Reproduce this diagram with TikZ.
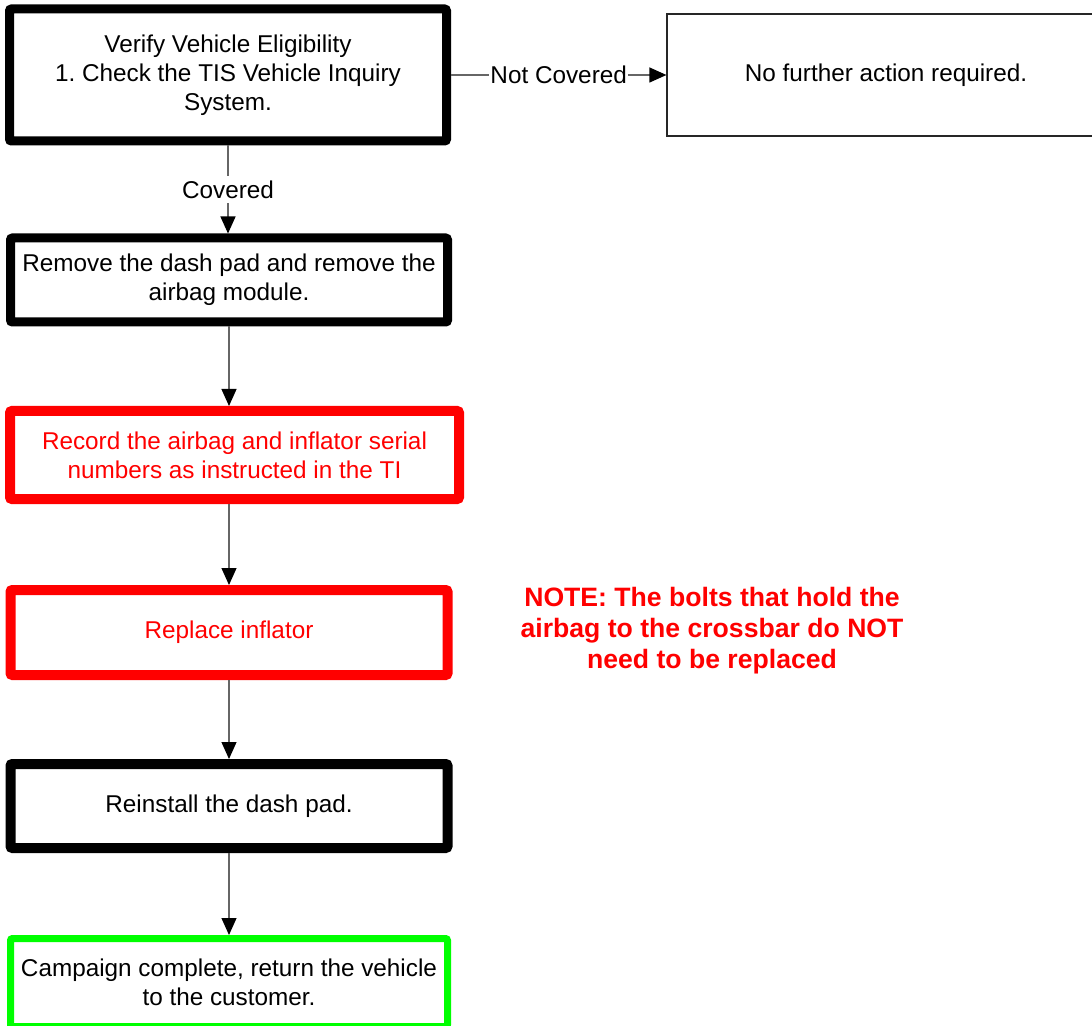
\documentclass[tikz,border=0pt]{standalone}
\usepackage{fontspec}
\setmainfont{Liberation Sans}
\usetikzlibrary{arrows.meta}
\definecolor{alertred}{RGB}{255,0,0}
\definecolor{donegreen}{RGB}{0,255,0}
\frenchspacing
\tikzset{
  stepbox/.style={draw, line width=4.5pt, rounded corners=1pt, align=center, inner sep=2pt, minimum width=218.5pt, minimum height=42pt},
  redbox/.style={stepbox, draw=alertred, text=alertred, line width=5pt},
  donebox/.style={stepbox, draw=donegreen, line width=3.5pt},
  endbox/.style={draw=black!85, line width=0.6pt, align=center, minimum width=219pt, minimum height=61pt},
  flow/.style={draw=black!60, line width=0.6pt, -{Triangle[length=8.5pt,width=7.5pt,color=black]}},
  flowlabel/.style={fill=white, text=black, inner xsep=0.5pt, inner ysep=2.5pt}
}
\begin{document}
\begin{tikzpicture}[x=0.5pt, y=-0.5pt, font=\fontsize{12.15}{14.5}\selectfont]
\useasboundingbox (0,0) rectangle (1092,1026);

\node[stepbox, minimum height=66pt] (verify) at (228,75) {Verify Vehicle Eligibility\\1. Check the TIS Vehicle Inquiry\\System.};
\node[endbox] (nofurther) at (886,75) {No further action required.};

\node[stepbox] (remove) at (229,280) {Remove the dash pad and remove the\\airbag module.};
\node[redbox, minimum width=224.5pt, minimum height=44pt] (record) at (234.5,455) {Record the airbag and inflator serial\\numbers as instructed in the TI};
\node[redbox, minimum height=42.5pt] (replace) at (229,632.5) {Replace inflator};
\node[stepbox, line width=5pt] (reinstall) at (229,806) {Reinstall the dash pad.};
\node[donebox, minimum height=44pt] (done) at (229,982.5) {Campaign complete, return the vehicle\\to the customer.};

\node[text=alertred, align=center, font=\fontsize{13.3}{15.5}\selectfont\bfseries] (note) at (712,631) {NOTE: The bolts that hold the\\airbag to the crossbar do NOT\\need to be replaced};

\draw[flow] (verify.east) -- node[flowlabel] (notcovered) {Not Covered} (nofurther.west);
\draw[flow] (verify.south) -- node[flowlabel] (covered) {Covered} (verify.south |- remove.north);
\draw[flow] (remove.south) -- (remove.south |- record.north);
\draw[flow] (replace.north |- record.south) -- (replace.north);
\draw[flow] (replace.south) -- (reinstall.north);
\draw[flow] (reinstall.south) -- (done.north);
\end{tikzpicture}
\end{document}
